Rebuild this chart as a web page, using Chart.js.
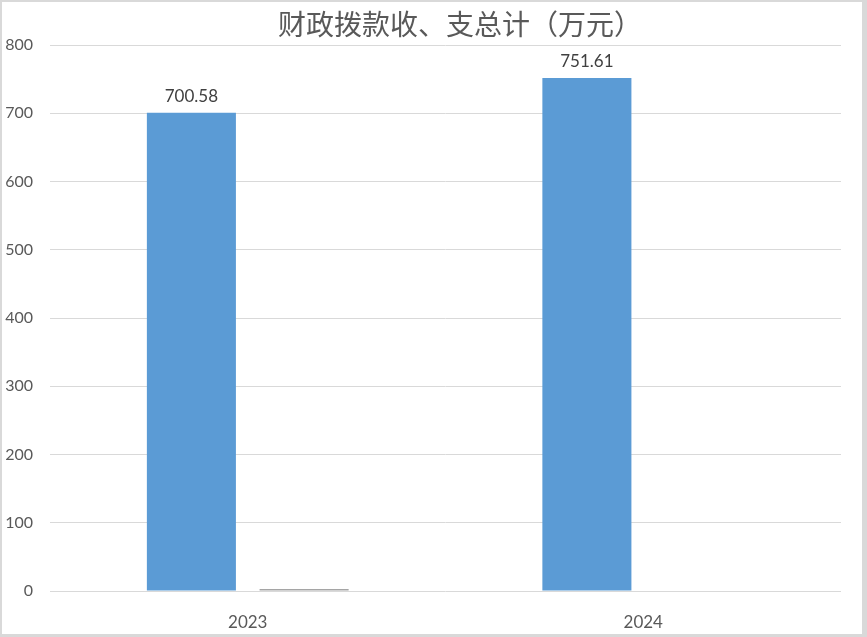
<!DOCTYPE html>
<html>
<head>
<meta charset="utf-8">
<script src="https://cdn.jsdelivr.net/npm/chart.js@4"></script>
<style>
  html, body { margin: 0; padding: 0; background: #fff; }
  #wrap {
    width: 867px; height: 637px; box-sizing: border-box;
    border-style: solid; border-color: #d9d9d9;
    border-width: 2px 5px 3px 2px;
  }
</style>
</head>
<body>
<div id="wrap"><canvas id="budgetChart" width="860" height="632"></canvas></div>
<script>
// values
const years = ['2023', '2024'];
const income = [700.58, 751.61];
const spending = [3, 0];
const yTicks = [0, 100, 200, 300, 400, 500, 600, 700, 800];
const titleText = '财政拨款收、支总计（万元）';

// title + value labels drawn by hand so they sit where the original does
const extras = {
    id: 'extras',
    afterDatasetsDraw(chart) {
        const ctx = chart.ctx;
        ctx.save();
        ctx.fillStyle = '#595959';
        ctx.font = '28px "Noto Sans CJK SC"';
        ctx.textAlign = 'center';
        ctx.textBaseline = 'middle';
        ctx.fillText(titleText, 458, 22);

        ctx.fillStyle = '#404040';
        ctx.font = '17px Lato';
        ctx.textBaseline = 'bottom';
        chart.getDatasetMeta(0).data.forEach((bar, i) => {
            ctx.fillText(income[i].toFixed(2), bar.x, bar.y - 8);
        });
        ctx.restore();
    }
};

function initChart() {
    const ctx = document.getElementById('budgetChart').getContext('2d');
    new Chart(ctx, {
        type: 'bar',
        data: {
            labels: years,
            datasets: [{
                label: '收入',
                data: income,
                backgroundColor: '#5b9bd5'
            }, {
                label: '支出',
                data: spending,
                backgroundColor: '#a5a5a5'
            }]
        },
        options: {
            responsive: false,
            animation: false,
            categoryPercentage: 0.57,
            barPercentage: 0.79,
            layout: { padding: { top: 43, right: 21, left: 0, bottom: 0 } },
            plugins: {
                legend: { display: false },
                title: { display: false },
                tooltip: { enabled: false }
            },
            scales: {
                x: {
                    grid: { display: false },
                    border: { display: false },
                    ticks: { color: '#595959', font: { family: 'Lato', size: 17 }, padding: 13 },
                    afterFit(scale) { scale.height = 43; }
                },
                y: {
                    min: 0,
                    max: 800,
                    afterBuildTicks(scale) { scale.ticks = yTicks.map(v => ({ value: v })); },
                    grid: { color: '#d9d9d9', drawTicks: false },
                    border: { display: false },
                    ticks: { color: '#595959', font: { family: 'Lato', size: 16 }, padding: 17 },
                    afterFit(scale) { scale.width = 48; }
                }
            }
        },
        plugins: [extras]
    });
}

initChart();
</script>
</body>
</html>
